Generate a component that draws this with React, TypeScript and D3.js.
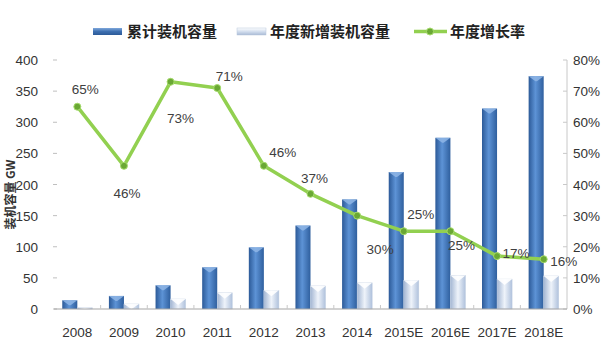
import React from 'react';
import * as d3 from 'd3';

// categories + values
const years = ['2008', '2009', '2010', '2011', '2012', '2013', '2014', '2015E', '2016E', '2017E', '2018E'];
const cumulative = [14, 21, 38, 67, 99, 134, 176, 220, 275, 322, 374];
const added = [2, 8, 16, 26, 30, 37, 42, 46, 54, 48, 53];
const growth = [0.65, 0.46, 0.73, 0.71, 0.46, 0.37, 0.30, 0.25, 0.25, 0.17, 0.16];
const leftTicks = [0, 50, 100, 150, 200, 250, 300, 350, 400];
const rightTicks = [0, 0.1, 0.2, 0.3, 0.4, 0.5, 0.6, 0.7, 0.8];
const legendNames = ['累计装机容量', '年度新增装机容量', '年度增长率'];

// label placement relative to each point
const labelOffsets: [number, number][] = [
  [8, -18], [3, 27], [10, 36], [12, -12], [19, -14], [4, -16],
  [23, 33], [17, -17], [11, 14], [19, -3], [20, 2],
];

const W = 612, H = 352;
const left = 54, right = 567, top = 60, bottom = 309;
const numFont = '"Liberation Sans", Arial, sans-serif';
const cjkFont = '"Noto Sans CJK SC", sans-serif';

export default function App() {
  const x = d3.scaleBand<string>().domain(years).range([left, right]).paddingInner(0).paddingOuter(0);
  const x1 = d3.scaleBand<string>().domain(['cum', 'new']).range([0, x.bandwidth()]).paddingInner(0).paddingOuter(0.55);
  const yL = d3.scaleLinear().domain([0, 400]).range([bottom, top]);
  const yR = d3.scaleLinear().domain([0, 0.8]).range([bottom, top]);

  const line = d3.line<number>()
    .x((_, i) => x(years[i])! + x.bandwidth() / 2)
    .y(d => yR(d));

  const bw = x1.bandwidth();

  return (
    <svg width={W} height={H} style={{ position: 'absolute', left: 0, top: 0, background: '#fff' }}>
      <defs>
        <linearGradient id="dark" x1="0" x2="1" y1="0" y2="0">
          <stop offset="0" stopColor="#2c5a98" />
          <stop offset="0.45" stopColor="#5d93d6" />
          <stop offset="1" stopColor="#2f5f9e" />
        </linearGradient>
        <linearGradient id="light" x1="0" x2="1" y1="0" y2="0">
          <stop offset="0" stopColor="#a3b6d3" />
          <stop offset="0.5" stopColor="#eef3fa" />
          <stop offset="1" stopColor="#afc1dc" />
        </linearGradient>
        <linearGradient id="legDark" x1="0" x2="0" y1="0" y2="1">
          <stop offset="0" stopColor="#7fa8dc" />
          <stop offset="0.5" stopColor="#3d6fb0" />
          <stop offset="1" stopColor="#2c5a98" />
        </linearGradient>
        <linearGradient id="legLight" x1="0" x2="0" y1="0" y2="1">
          <stop offset="0" stopColor="#ffffff" />
          <stop offset="0.5" stopColor="#d3deee" />
          <stop offset="1" stopColor="#a9bbd6" />
        </linearGradient>
      </defs>

      {/* legend */}
      <g>
        <rect x={93} y={28} width={29} height={7} fill="url(#legDark)" />
        <text x={127} y={37} fontFamily={cjkFont} fontWeight="bold" fontSize={15} fill="#222">{legendNames[0]}</text>
        <rect x={237} y={28} width={29} height={7} fill="url(#legLight)" stroke="#b8c6da" strokeWidth={0.5} />
        <text x={270} y={37} fontFamily={cjkFont} fontWeight="bold" fontSize={15} fill="#222">{legendNames[1]}</text>
        <line x1={414} x2={447} y1={31.5} y2={31.5} stroke="#92d050" strokeWidth={3.5} />
        <circle cx={430} cy={31.5} r={3.5} fill="#6aa834" stroke="#a6dc6c" strokeWidth={1} />
        <text x={450} y={37} fontFamily={cjkFont} fontWeight="bold" fontSize={15} fill="#222">{legendNames[2]}</text>
      </g>

      {/* y axis title */}
      <text transform={`translate(15,${(top + bottom) / 2 + 10}) rotate(-90)`} textAnchor="middle"
        fontFamily={cjkFont} fontWeight="bold" fontSize={12} fill="#333">装机容量 GW</text>

      {/* left ticks */}
      {leftTicks.map(t => (
        <g key={'l' + t}>
          <line x1={left - 1} x2={left + 3} y1={yL(t)} y2={yL(t)} stroke="#bfbfbf" />
          <text x={38} y={yL(t) + 5} textAnchor="end" fontFamily={numFont} fontSize={13.5} fill="#333">{t}</text>
        </g>
      ))}

      {/* right axis */}
      <line x1={right} x2={right} y1={top} y2={bottom} stroke="#c8c8c8" />
      {rightTicks.map(t => (
        <g key={'r' + t}>
          <line x1={right - 4} x2={right} y1={yR(t)} y2={yR(t)} stroke="#c8c8c8" />
          <text x={573} y={yR(t) + 5} fontFamily={numFont} fontSize={13.5} fill="#333">{d3.format('.0%')(t)}</text>
        </g>
      ))}

      {/* bars */}
      {years.map((yr, i) => {
        const x0 = x(yr)!;
        const xd = x0 + x1('cum')!;
        const xl = x0 + x1('new')!;
        const td = yL(cumulative[i]);
        const tl = yL(added[i]);
        return (
          <g key={yr}>
            <rect x={xd} y={td} width={bw} height={bottom - td} fill="url(#dark)" />
            <path d={`M${xd},${td}L${xd + bw},${td}L${xd + bw * 0.55},${td + Math.min(5, bottom - td)}L${xd + bw * 0.45},${td + Math.min(5, bottom - td)}Z`} fill="#8fb6e6" opacity={0.85} />
            <rect x={xl} y={tl} width={bw} height={bottom - tl} fill="url(#light)" stroke="#c2cfe2" strokeWidth={0.5} />
            <path d={`M${xl},${tl}L${xl + bw},${tl}L${xl + bw * 0.5},${tl + Math.min(6, bottom - tl)}Z`} fill="#ffffff" opacity={0.9} />
          </g>
        );
      })}

      {/* baseline + category ticks */}
      <line x1={left} x2={right} y1={bottom} y2={bottom} stroke="#a6a6a6" strokeWidth={1.2} />
      {years.map((yr, i) => i > 0 && (
        <line key={'t' + yr} x1={x(yr)!} x2={x(yr)!} y1={bottom} y2={bottom - 4} stroke="#c8c8c8" />
      ))}

      {/* x labels */}
      {years.map(yr => (
        <text key={'x' + yr} x={x(yr)! + x.bandwidth() / 2} y={bottom + 28} textAnchor="middle"
          fontFamily={numFont} fontSize={13.5} fill="#333">{yr}</text>
      ))}

      {/* growth line */}
      <path d={line(growth) ?? ''} fill="none" stroke="#92d050" strokeWidth={3.5} strokeLinejoin="round" />
      {growth.map((g, i) => (
        <circle key={'c' + i} cx={x(years[i])! + x.bandwidth() / 2} cy={yR(g)} r={3.5}
          fill="#6aa834" stroke="#a6dc6c" strokeWidth={1} />
      ))}
      {growth.map((g, i) => (
        <text key={'g' + i} x={x(years[i])! + x.bandwidth() / 2 + labelOffsets[i][0]}
          y={yR(g) + labelOffsets[i][1] + 5} textAnchor="middle"
          fontFamily={numFont} fontSize={13.5} fill="#404040">{d3.format('.0%')(g)}</text>
      ))}
    </svg>
  );
}
